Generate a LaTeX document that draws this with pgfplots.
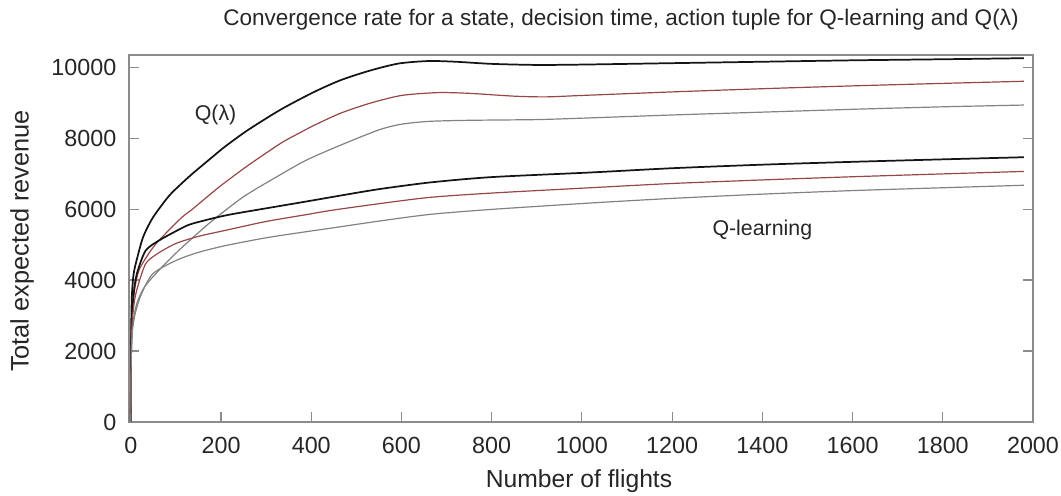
\documentclass[border=0pt]{standalone}
\usepackage{fontspec}
\setmainfont{Liberation Sans}
\usepackage{pgfplots}
\pgfplotsset{compat=1.18}
\definecolor{cblack}{RGB}{20,20,20}
\definecolor{cred}{RGB}{150,70,70}
\definecolor{cgrey}{RGB}{130,130,130}
\definecolor{cframe}{RGB}{140,140,140}
\begin{document}
\begin{tikzpicture}
\path[use as bounding box] (-96.75pt,-55.5pt) rectangle (699pt,316.5pt);
\begin{axis}[
  scale only axis, width=678pt, height=275.25pt,
  xmin=-4, xmax=2000, ymin=0, ymax=10340,
  xtick={0,200,...,2000}, ytick={0,2000,...,10000},
  tick align=inside, xtick pos=bottom, ytick pos=both,
  major tick length=7.5pt,
  axis line style={draw=cframe, line width=1pt},
  every tick/.style={draw=cframe, line width=0.8pt},
  scaled ticks=false,
  /pgf/number format/1000 sep={},
  /pgf/number format/assume math mode=true,
  ticklabel style={font=\fontsize{17.5}{20}\selectfont, text=black!85},
  yticklabel style={xshift=-6pt},
  xticklabel style={yshift=-8pt},
  clip=true,
  every axis plot/.append style={smooth, tension=0.45},
]
% Q(lambda) black
\addplot[cblack, line width=1.3pt] coordinates {
(0,0) (0.3,1500) (1,2700) (2,3400) (3,3700) (6,4150) (11,4460) (27,5200) (49,5760) (84,6360) (111,6700) (137,7000) (184,7500) (210,7770) (259,8220) (332,8800) (405,9290) (465,9630) (530,9900) (594,10100) (660,10170) (720,10150) (800,10090) (900,10060) (1000,10070) (1200,10110) (1400,10150) (1600,10190) (1800,10220) (1980,10250)};
% Q(lambda) red
\addplot[cred, line width=0.9pt] coordinates {
(0,0) (0.5,1200) (1,2200) (3,3000) (8,3700) (18,4270) (40,4750) (62,5110) (111,5740) (137,6000) (184,6500) (210,6760) (259,7220) (332,7850) (372,8130) (405,8350) (465,8700) (530,8980) (600,9200) (680,9280) (750,9260) (850,9180) (920,9160) (1000,9200) (1200,9300) (1400,9390) (1600,9470) (1800,9540) (1980,9600)};
% Q(lambda) grey
\addplot[cgrey, line width=0.9pt] coordinates {
(0,0) (0.5,1000) (1,1900) (3,2600) (8,3050) (15,3400) (30,3800) (62,4270) (106,4830) (173,5590) (248,6330) (321,6890) (388,7370) (465,7800) (550,8230) (600,8390) (661,8470) (750,8500) (900,8520) (1000,8560) (1200,8650) (1400,8730) (1600,8810) (1800,8880) (1980,8930)};
% Q-learning black
\addplot[cblack, line width=1.3pt] coordinates {
(0,0) (0.5,1300) (1,2300) (3,3100) (8,3800) (15,4250) (33,4830) (62,5110) (111,5450) (137,5590) (210,5820) (300,6020) (388,6210) (465,6380) (550,6560) (664,6750) (800,6900) (1019,7030) (1200,7150) (1400,7250) (1600,7330) (1800,7400) (1980,7460)};
% Q-learning red
\addplot[cred, line width=0.9pt] coordinates {
(0,0) (0.5,1100) (1,2000) (3,2800) (8,3400) (15,3800) (33,4460) (60,4750) (100,5030) (150,5230) (210,5400) (300,5650) (388,5840) (443,5960) (550,6150) (664,6330) (800,6450) (1019,6600) (1200,6720) (1400,6820) (1600,6910) (1800,6990) (1980,7060)};
% Q-learning grey
\addplot[cgrey, line width=0.9pt] coordinates {
(0,0) (0.5,1000) (1,1800) (3,2500) (8,2950) (15,3300) (25,3650) (49,4180) (100,4550) (150,4780) (210,4970) (300,5190) (388,5360) (443,5460) (550,5660) (664,5850) (800,5990) (1019,6170) (1200,6300) (1400,6420) (1600,6520) (1800,6600) (1980,6670)};
\node[font=\fontsize{16}{19}\selectfont, text=black!85] at (axis cs:188,8640) {Q(λ)};
\node[font=\fontsize{16}{19}\selectfont, text=black!85] at (axis cs:1400,5400) {Q-learning};
\end{axis}
\node[font=\fontsize{16.9}{20}\selectfont, text=black!85] at (369pt,301.5pt) {Convergence rate for a state, decision time, action tuple for Q-learning and Q(λ)};
\node[font=\fontsize{18.5}{22}\selectfont, text=black!85] at (337.5pt,-44.25pt) {Number of flights};
\node[font=\fontsize{19}{22}\selectfont, text=black!85, rotate=90] at (-80.25pt,135.75pt) {Total expected revenue};
\end{tikzpicture}
\end{document}
